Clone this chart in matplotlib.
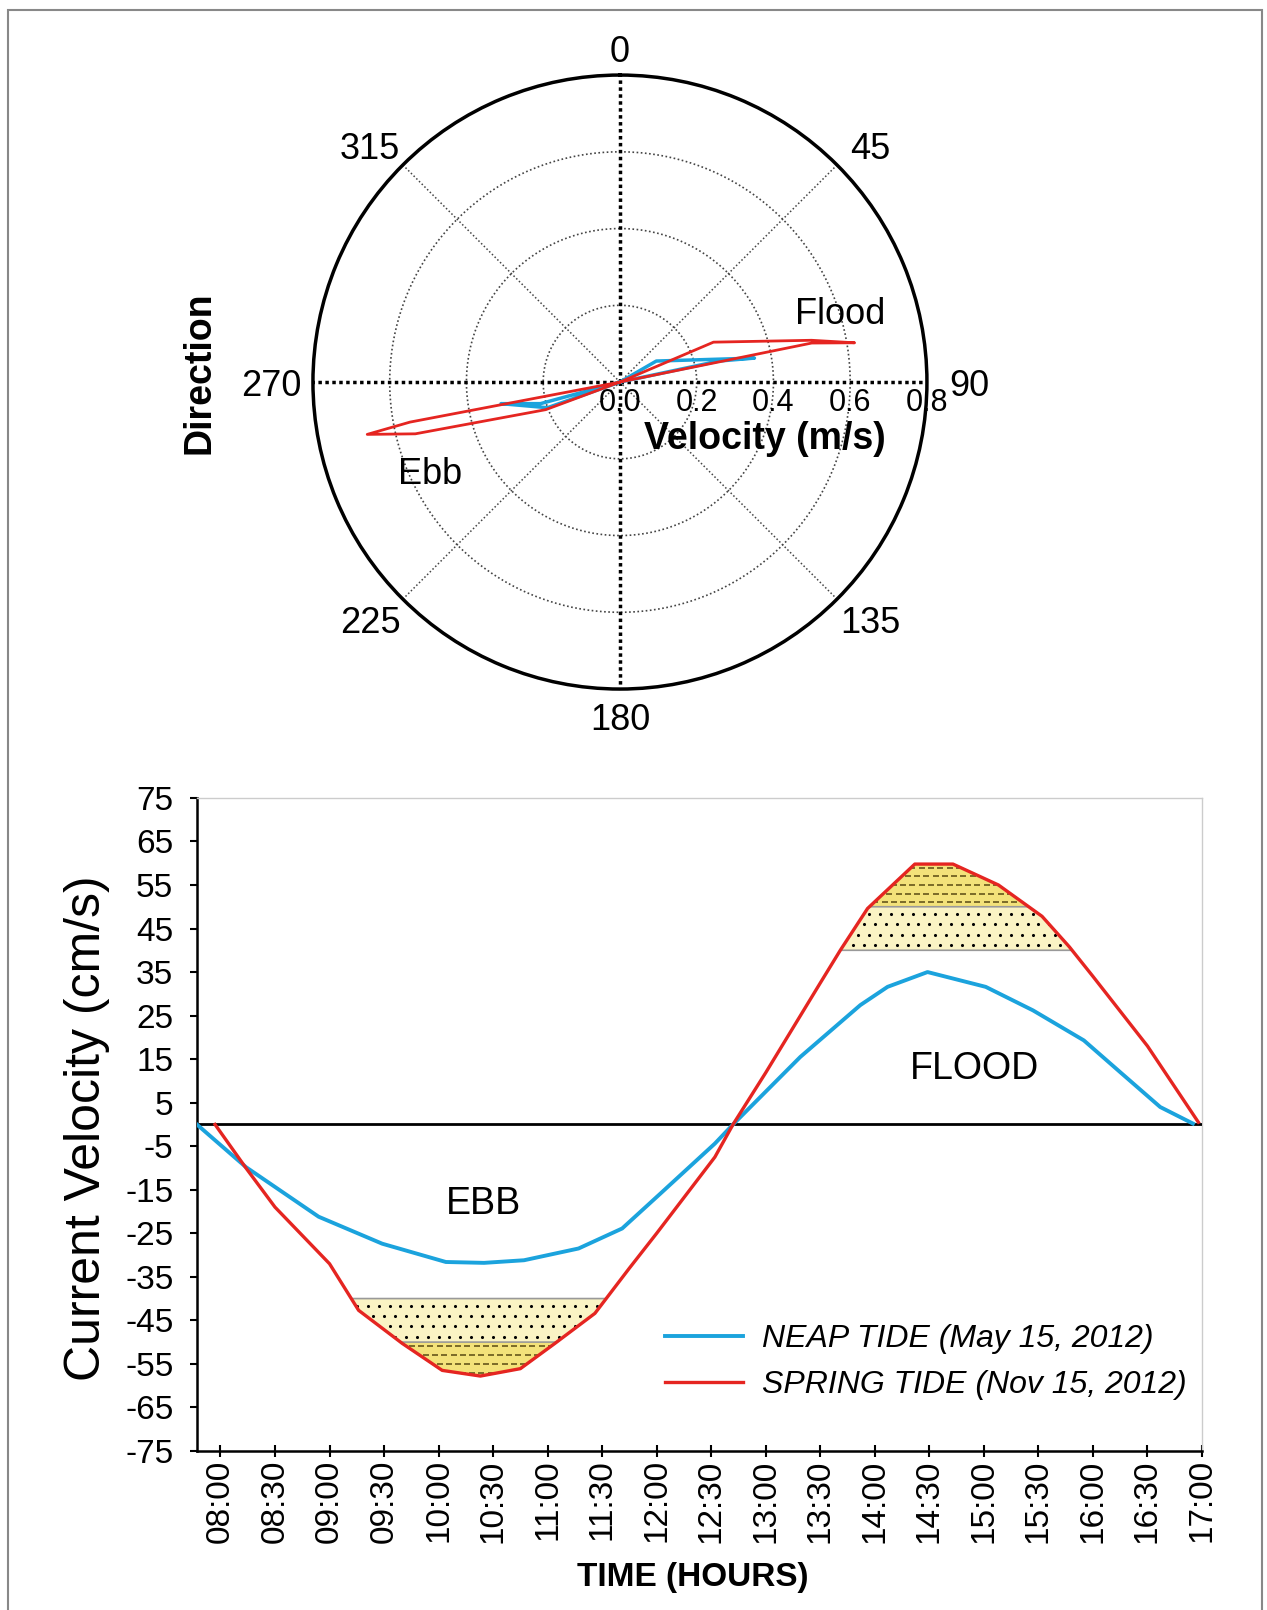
import numpy as np
import matplotlib.pyplot as plt
from matplotlib.patches import Rectangle
from matplotlib.path import Path

plt.rcParams['font.family'] = ['Liberation Sans', 'DejaVu Sans']
plt.rcParams['axes.unicode_minus'] = False

# polar plot: direction (deg from north) and speed (m/s), path leaves and returns to centre
spring_dir = [0, 66.9, 77.7, 80.5, 78.5, 0, 249.6, 255.8, 258.3, 259.2, 0]
spring_spd = [0, 0.265, 0.511, 0.620, 0.510, 0, 0.2065, 0.550, 0.6725, 0.557, 0]
neap_dir = [0, 60.0, 79.9, 78.0, 0, 250.5, 259.7, 254.8, 0]
neap_spd = [0, 0.1095, 0.356, 0.263, 0, 0.2003, 0.315, 0.2145, 0]

# time series (cm/s)
neap_time = ["07:47", "08:14", "08:54", "09:29", "10:04", "10:25", "10:47", "11:17", "11:41",
             "12:02", "12:32", "12:42", "13:19", "13:52", "14:07", "14:29", "15:01", "15:27",
             "15:55", "16:15", "16:37", "16:55"]
neap_vel = [0, -9.8, -21.2, -27.4, -31.6, -31.8, -31.2, -28.5, -23.9,
            -15.9, -4.4, 0, 15.5, 27.4, 31.6, 35.0, 31.6, 26.2,
            19.3, 12.0, 4.0, 0.2]

spring_time = ["07:57", "08:14", "08:30", "09:00", "09:16", "09:40", "10:02", "10:23", "10:45",
               "11:04", "11:26", "11:45", "12:00", "12:32", "12:42", "13:00", "13:30", "13:41",
               "13:56", "14:22", "14:43", "15:08", "15:32", "15:47", "16:00", "16:30", "16:58"]
spring_vel = [0, -10, -19, -32, -42.7, -50.3, -56.5, -57.8, -56.1,
              -50.3, -43.4, -33, -25, -7.5, 0, 11.9, 32.5, 40,
              49.6, 59.8, 59.8, 55, 47.8, 40.8, 34, 18, 0.5]

tick_labels = ["08:00", "08:30", "09:00", "09:30", "10:00", "10:30", "11:00", "11:30", "12:00",
               "12:30", "13:00", "13:30", "14:00", "14:30", "15:00", "15:30", "16:00", "16:30", "17:00"]

BLUE = '#1BA3DD'
RED = '#E52521'
CREAM = '#FAF3C4'
YELLOW = '#F3E27A'


def to_hours(s):
    h, m = s.split(':')
    return int(h) + int(m) / 60.0


def texture(ax, coll, lo, hi, dy, dx, marker, size, color, lw):
    # staggered grid of small marks clipped to the filled band
    clip = Path.make_compound_path(*coll.get_paths())
    xs, ys = [], []
    for i, y in enumerate(np.arange(lo + dy / 2, hi, dy)):
        off = dx / 2 if i % 2 else 0
        for x in np.arange(7.8 + off, 17.0, dx):
            xs.append(x)
            ys.append(y)
    sc = ax.scatter(xs, ys, marker=marker, s=size, color=color, linewidths=lw, zorder=1.5)
    sc.set_clip_path(clip, ax.transData)


fig = plt.figure(figsize=(12.67, 16.10), dpi=100)
fig.add_artist(Rectangle((8 / 1267, -0.05), 1254 / 1267, 1.05 - 10 / 1610, transform=fig.transFigure,
                         fill=False, edgecolor='#888888', lw=1.5))

# ---------------- polar plot ----------------
ax = fig.add_axes([0.2470, 0.5720, 0.4846, 0.3814], projection='polar')
ax.set_theta_zero_location('N')
ax.set_theta_direction(-1)
ax.set_ylim(0, 0.8)
ax.set_xticks([])
ax.set_yticks([])
ax.grid(False)
ax.spines['polar'].set_linewidth(2.5)

th = np.linspace(0, 2 * np.pi, 361)
for r in (0.2, 0.4, 0.6):
    ax.plot(th, np.full_like(th, r), ls=(0, (1, 1.5)), color='#444444', lw=1.2)
for a in (45, 135, 225, 315):
    ax.plot([np.deg2rad(a)] * 2, [0, 0.8], ls=(0, (1, 1.5)), color='#444444', lw=1.1)
for a in (0, 90, 180, 270):
    ax.plot([np.deg2rad(a)] * 2, [0, 0.8], ls=(0, (1, 1)), color='black', lw=2.5)

label_angle = {45: 46.5, 135: 133.5, 225: 226.5, 315: 313.5}
for a in range(0, 360, 45):
    rr = 0.8 + (27 + 15 * abs(np.sin(np.deg2rad(a)))) / 384
    ax.annotate(str(a), xy=(np.deg2rad(label_angle.get(a, a)), rr), xytext=(0, -3),
                textcoords='offset points', ha='center', va='center', fontsize=26,
                annotation_clip=False)
for r in (0.0, 0.2, 0.4, 0.6, 0.8):
    ax.annotate(f'{r:.1f}', xy=(np.pi / 2, r), xytext=(0, -15), textcoords='offset points',
                ha='center', va='center', fontsize=22, annotation_clip=False)

ax.plot(np.deg2rad(neap_dir), neap_spd, color=BLUE, lw=2.5)
ax.plot(np.deg2rad(spring_dir), spring_spd, color=RED, lw=2)

fig.text(840 / 1267, 1 - 314 / 1610, 'Flood', ha='center', va='center', fontsize=26)
fig.text(430 / 1267, 1 - 475 / 1610, 'Ebb', ha='center', va='center', fontsize=26)
fig.text(765 / 1267, 1 - 439 / 1610, 'Velocity (m/s)', ha='center', va='center', fontsize=27, fontweight='bold')
fig.text(200 / 1267, 1 - 373 / 1610, 'Direction', ha='center', va='center', rotation=90,
         fontsize=27, fontweight='bold')

# ---------------- time series ----------------
ax2 = fig.add_axes([0.1555, 0.0988, 0.7932, 0.4056])
tn = np.array([to_hours(s) for s in neap_time])
ts = np.array([to_hours(s) for s in spring_time])
vn = np.array(neap_vel)
vs = np.array(spring_vel)

# sediment bands: dotted sand between 40 and 50, yellow dashed beyond 50 (ebb and flood)
bands = [(-50, -40, vs <= -40, CREAM, 'dots'), (-60, -50, vs <= -50, YELLOW, 'dash'),
         (40, 50, vs >= 40, CREAM, 'dots'), (50, 60, vs >= 50, YELLOW, 'dash')]
for lo, hi, cond, col, kind in bands:
    edge = hi if lo < 0 else lo
    coll = ax2.fill_between(ts, vs, edge, where=cond, interpolate=True, facecolor=col, lw=0, zorder=1)
    if kind == 'dots':
        texture(ax2, coll, lo, hi, 2.4, 0.1, 'o', 5, 'black', 0)
    else:
        texture(ax2, coll, lo, hi, 2.0, 0.085, '_', 22, '#7d6d2a', 1.3)
    ax2.fill_between(ts, vs, edge, where=cond, interpolate=True, facecolor='none',
                     edgecolor='#999999', lw=1.2, zorder=2)

ax2.axhline(0, color='black', lw=2, zorder=3)
ax2.plot(tn, vn, color=BLUE, lw=2.8, label='NEAP TIDE (May 15, 2012)', zorder=4)
ax2.plot(ts, vs, color=RED, lw=2.4, label='SPRING TIDE (Nov 15, 2012)', zorder=5)

ax2.set_xlim(7.785, 17.0)
ax2.set_ylim(-75, 75)
ax2.set_yticks(np.arange(-75, 76, 10))
ax2.set_xticks([to_hours(s) for s in tick_labels])
ax2.set_xticklabels(tick_labels, rotation=90)
ax2.tick_params(axis='y', labelsize=24, direction='out', length=5, width=1.5, pad=12)
ax2.tick_params(axis='x', labelsize=24, direction='inout', length=8, width=1.5, pad=2)
for side in ('left', 'bottom'):
    ax2.spines[side].set_linewidth(1.8)
for side in ('top', 'right'):
    ax2.spines[side].set_color('#cccccc')
    ax2.spines[side].set_linewidth(1)

ax2.text(10.41, -18.3, 'EBB', ha='center', va='center', fontsize=27)
ax2.text(14.91, 12.7, 'FLOOD', ha='center', va='center', fontsize=27)

ax2.legend(loc='upper left', bbox_to_anchor=(665 / 1267, 1 - 1324 / 1610), bbox_transform=fig.transFigure,
           frameon=False, borderaxespad=0, borderpad=0, handlelength=2.45, handletextpad=0.6,
           labelspacing=0.5, prop={'style': 'italic', 'size': 23})

fig.text(87 / 1267, 1 - 1128 / 1610, 'Current Velocity (cm/s)', ha='center', va='center',
         rotation=90, fontsize=36)
fig.text(693 / 1267, 1 - 1577 / 1610, 'TIME (HOURS)', ha='center', va='center', fontsize=24,
         fontweight='bold')

plt.savefig('out.png', dpi=100)
